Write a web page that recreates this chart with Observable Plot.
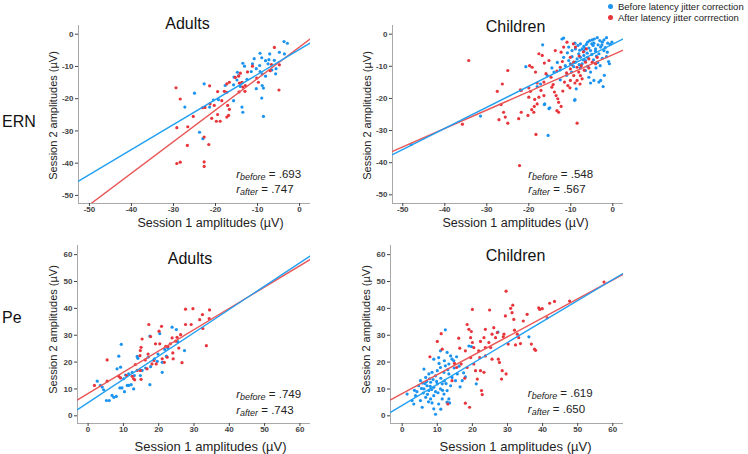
<!DOCTYPE html>
<html>
<head>
<meta charset="utf-8">
<script src="https://cdn.jsdelivr.net/npm/d3@7"></script>
<script src="https://cdn.jsdelivr.net/npm/@observablehq/plot@0.6"></script>
<style>
  body { margin: 0; background: #fff; font-family: "Liberation Sans", Arial, sans-serif; }
  #chart { position: relative; width: 748px; height: 454px; overflow: hidden; background: #fff; }
  #chart svg { position: absolute; }
  .rowlab { position: absolute; font-size: 16px; line-height: 18px; color: #111; }
  .leg { position: absolute; font-size: 9.5px; line-height: 11px; color: #222; white-space: nowrap; }
  .legdot { position: absolute; width: 5px; height: 5px; border-radius: 50%; }
</style>
</head>
<body>
<div id="chart"></div>
<script>
// ---------------- data ----------------
const rowLabels = ["ERN", "Pe"];
const groupTitles = ["Adults", "Children", "Adults", "Children"];
const seriesNames = ["Before latency jitter correction", "After latency jitter corrrection"];
const xAxisTitle = "Session 1 amplitudes (µV)";
const yAxisTitle = "Session 2 amplitudes (µV)";
const ernTicks = [-50, -40, -30, -20, -10, 0];
const peTicks = [0, 10, 20, 30, 40, 50, 60];
const rBefore = [".693", ".548", ".749", ".619"];
const rAfter = [".747", ".567", ".743", ".650"];
// fitted lines: [slope, intercept]
const fitBefore = [[0.777, -4.7], [0.655, -3.1], [0.868, 4.9], [0.78, 3.9]];
const fitAfter = [[0.979, -3.95], [0.574, -6.4], [0.793, 8.3], [0.705, 8.3]];

const ernAdultsBefore = [[-3.7,-2.3],[-2.9,-2.8],[-4.8,-5.6],[-3.6,-6.1],[-9.4,-5.9],[-7.1,-6.1],[-10.8,-7.6],[-9.0,-7.3],[-7.3,-7.9],[-7.5,-9.2],[-9.5,-9.7],[-8.1,-8.2],[-6.0,-8.1],[-13.5,-9.0],[-13.1,-9.9],[-11.2,-9.2],[-10.3,-10.7],[-9.4,-11.6],[-8.9,-12.3],[-8.1,-13.0],[-6.6,-11.1],[-5.7,-12.3],[-5.6,-10.7],[-11.5,-11.6],[-14.8,-11.8],[-14.5,-12.8],[-15.6,-13.3],[-14.9,-14.2],[-13.7,-15.1],[-12.5,-14.0],[-10.3,-16.9],[-8.6,-16.7],[-8.9,-15.9],[-14.1,-16.2],[-15.7,-15.7],[-15.7,-20.6],[-9.0,-19.8],[-8.6,-25.5],[-13.7,-22.6],[-13.5,-24.2],[-17.7,-15.9],[-20.5,-20.4],[-19.3,-20.3],[-22.7,-15.4],[-25.0,-18.3],[-27.3,-22.6],[-21.4,-22.6],[-23.8,-30.4],[-23.0,-32.4]];
const ernAdultsAfter = [[-6.0,-4.1],[-11.2,-9.9],[-4.8,-9.5],[-4.9,-17.3],[-6.7,-9.4],[-12.4,-11.7],[-10.2,-13.6],[-9.8,-14.9],[-7.0,-11.3],[-14.1,-12.1],[-13.7,-14.9],[-12.9,-15.9],[-13.5,-16.4],[-13.0,-17.7],[-14.4,-17.9],[-14.3,-15.2],[-15.3,-13.4],[-14.5,-13.0],[-16.7,-14.9],[-17.3,-15.4],[-17.3,-18.0],[-17.9,-17.7],[-19.5,-17.8],[-18.5,-20.6],[-17.1,-22.1],[-16.7,-23.3],[-16.9,-25.2],[-17.3,-25.7],[-18.9,-27.0],[-19.8,-27.0],[-19.5,-24.9],[-20.9,-26.1],[-21.3,-21.6],[-20.3,-22.1],[-22.5,-22.7],[-23.1,-22.8],[-21.4,-16.0],[-25.3,-25.5],[-26.6,-28.7],[-29.2,-29.0],[-28.4,-20.1],[-29.4,-16.6],[-22.7,-31.9],[-21.6,-34.2],[-26.7,-34.5],[-22.7,-39.6],[-22.7,-41.0],[-28.4,-39.7],[-29.2,-40.1]];
const ernChildrenBefore = [[-48.0,-34.3],[-31.5,-25.5],[-15.4,-31.5],[-15.2,-23.2],[-16.3,-21.9],[-9.0,-20.4],[-8.7,-17.0],[-16.7,-3.3],[-20.7,-10.1],[-18.0,-16.3],[-11.7,-1.2],[-2.3,-16.3],[-2.9,-14.4],[-5.3,-15.2],[-12.1,-1.5],[-10.5,-4.0],[-9.7,-5.1],[-8.9,-4.6],[-8.3,-3.5],[-7.7,-3.0],[-7.3,-4.6],[-6.9,-3.8],[-6.3,-3.2],[-6.0,-2.5],[-5.5,-2.0],[-4.9,-1.8],[-4.4,-1.5],[-3.7,-1.1],[-3.1,-2.0],[-2.5,-2.5],[-2.1,-1.8],[-1.5,-1.1],[-1.2,-2.8],[-0.6,-3.2],[-0.2,-2.5],[-2.9,-4.0],[-4.1,-4.6],[-5.3,-5.1],[-6.1,-5.9],[-6.9,-6.6],[-7.7,-7.2],[-8.5,-7.7],[-8.9,-8.7],[-10.1,-9.2],[-9.3,-10.1],[-7.7,-10.5],[-6.5,-11.3],[-5.3,-11.8],[-5.7,-13.4],[-4.5,-14.4],[-3.3,-14.9],[-4.1,-5.3],[-3.3,-6.1],[-2.1,-5.1],[-4.7,-3.5],[-5.7,-4.3],[-6.9,-5.3],[-8.1,-6.1],[-9.7,-7.0],[-10.5,-8.2],[-11.3,-9.8],[-12.5,-11.1],[-14.0,-11.8],[-15.6,-12.9],[-17.2,-15.5],[-15.0,-22.9],[-16.2,-21.7],[-9.1,-20.6],[-1.3,-5.6],[-6.5,-8.2],[-7.3,-9.2],[-11.7,-7.2],[-1.0,-8.5],[-3.6,-8.8],[-4.5,-2.8],[-3.5,-3.3],[-5.0,-3.0],[-6.6,-4.5],[-7.9,-5.0],[-2.6,-3.4],[-1.8,-4.2],[-3.9,-6.8],[-5.0,-6.3],[-6.0,-7.2],[-7.0,-8.0],[-8.0,-9.5],[-4.6,-8.0],[-2.5,-7.5],[-3.0,-9.8],[-4.0,-10.5],[-6.0,-10.0],[-9.8,-11.8],[-11.0,-12.8],[-12.5,-14.2],[-13.2,-8.8],[-14.5,-10.5],[-10.8,-5.8],[-9.0,-2.8],[-2.0,-12.8],[-0.8,-9.2],[-1.5,-7.0]];
const ernChildrenAfter = [[-34.3,-8.2],[-25.0,-11.3],[-26.3,-15.5],[-27.5,-17.8],[-26.6,-21.9],[-27.1,-26.6],[-26.0,-24.3],[-25.6,-25.8],[-25.0,-27.7],[-35.8,-28.0],[-22.4,-26.3],[-21.8,-24.3],[-21.8,-17.5],[-22.2,-40.9],[-20.0,-19.6],[-19.6,-17.8],[-20.2,-25.3],[-18.6,-20.3],[-19.3,-23.5],[-18.7,-22.5],[-18.3,-31.2],[-18.0,-21.7],[-19.8,-9.8],[-19.2,-10.3],[-18.4,-11.8],[-18.0,-15.2],[-17.1,-17.5],[-16.4,-14.9],[-15.9,-12.3],[-17.6,-6.1],[-16.8,-6.6],[-16.3,-9.0],[-15.2,-8.2],[-14.7,-13.4],[-14.2,-15.7],[-13.9,-18.0],[-13.5,-19.1],[-13.1,-20.1],[-12.9,-21.2],[-12.3,-22.5],[-13.3,-23.8],[-12.9,-24.3],[-11.9,-17.7],[-11.5,-14.9],[-13.7,-5.1],[-12.3,-5.6],[-11.7,-4.0],[-10.9,-2.5],[-9.4,-3.0],[-8.9,-4.0],[-10.1,-7.2],[-9.3,-8.7],[-10.1,-10.8],[-8.5,-10.3],[-8.1,-11.8],[-7.7,-12.9],[-7.3,-13.9],[-8.5,-14.4],[-9.3,-12.9],[-10.1,-14.4],[-10.7,-16.0],[-10.2,-16.7],[-6.5,-8.7],[-5.7,-7.7],[-4.9,-8.7],[-3.7,-7.2],[-6.3,-4.6],[-8.5,-27.7],[-13.3,-11.5],[-12.5,-10.3],[-5.7,-10.5],[-4.1,-9.2],[-22.0,-17.3],[-20.0,-16.7],[-17.6,-19.6],[-16.4,-19.1],[-18.8,-24.3],[-7.0,-5.5],[-8.0,-6.8],[-9.8,-9.5],[-7.5,-9.8],[-6.8,-11.2],[-11.0,-12.0],[-9.0,-15.2],[-7.8,-15.5],[-12.0,-8.5],[-14.5,-16.5]];
const peAdultsBefore = [[2.6,12.9],[3.5,11.3],[4.0,10.7],[4.4,9.7],[5.2,5.7],[6.0,5.7],[6.8,7.6],[7.3,6.9],[8.0,7.2],[8.2,17.5],[8.7,22.2],[9.4,26.6],[9.0,10.4],[9.6,10.4],[10.1,13.8],[10.6,15.2],[10.3,9.0],[11.5,11.3],[12.2,11.6],[11.5,15.6],[12.5,16.2],[13.1,15.0],[12.9,10.0],[13.9,22.1],[14.1,21.4],[15.3,16.9],[16.3,17.8],[17.0,21.8],[17.5,11.6],[17.7,18.3],[17.5,29.7],[18.8,21.2],[19.6,20.3],[19.8,23.0],[20.3,30.6],[21.0,19.9],[21.0,16.2],[21.7,24.7],[22.2,22.2],[22.6,25.2],[23.8,33.0],[25.0,32.1],[25.4,27.6],[27.3,24.3],[14.8,15.0],[11.1,11.3],[9.2,18.1]];
const peAdultsAfter = [[1.8,11.3],[5.4,20.8],[5.4,12.9],[8.7,14.7],[9.2,14.1],[10.9,15.0],[12.5,14.7],[12.9,13.8],[13.2,13.4],[13.4,19.1],[13.9,16.9],[14.7,22.4],[14.8,24.3],[15.0,25.5],[15.3,28.6],[15.0,13.6],[14.8,16.9],[16.2,20.8],[16.7,17.5],[17.0,23.0],[17.2,34.0],[17.7,29.5],[18.1,19.3],[18.6,20.6],[19.1,26.8],[19.3,19.3],[20.1,31.5],[20.3,26.8],[20.8,33.3],[21.0,21.2],[21.6,19.9],[22.0,25.9],[22.4,21.8],[22.6,25.8],[23.3,26.8],[23.8,29.0],[24.0,23.4],[24.1,21.2],[24.8,27.8],[25.2,29.2],[25.7,25.2],[26.2,30.2],[26.6,19.8],[27.6,39.7],[27.6,34.0],[29.2,34.0],[29.7,39.9],[31.6,35.8],[32.4,37.7],[32.5,32.5],[33.5,26.1],[34.4,39.4],[34.3,36.2]];
const peChildrenBefore = [[12.3,32.0],[10.9,24.2],[12.8,23.6],[13.8,22.3],[14.2,21.1],[14.7,20.5],[10.4,21.7],[9.0,21.1],[13.3,19.3],[12.3,18.6],[10.9,18.0],[10.0,16.8],[8.5,16.2],[7.6,15.6],[6.7,14.3],[9.5,14.9],[11.9,16.2],[13.3,15.6],[14.2,14.3],[15.7,15.6],[15.2,13.1],[17.1,13.1],[19.0,26.0],[6.2,17.4],[5.2,13.1],[4.7,11.2],[6.2,10.0],[7.1,11.2],[7.6,9.4],[8.1,12.5],[9.0,10.6],[10.0,11.9],[10.9,10.0],[11.4,11.9],[12.8,9.4],[13.8,11.2],[9.0,7.5],[8.1,6.3],[6.7,6.9],[5.2,5.7],[3.8,7.5],[2.8,5.7],[1.4,8.1],[3.3,4.4],[5.7,3.2],[9.0,2.6],[9.5,0.6],[10.4,4.4],[11.4,6.3],[11.9,8.1],[13.3,6.3],[27.3,31.2],[36.1,29.4],[21.1,11.9],[19.7,25.8],[7.0,12.8],[8.8,13.5],[9.8,12.8],[6.0,8.5],[7.2,8.0],[8.4,9.8],[10.2,8.6],[11.0,14.0],[12.0,13.0],[5.5,10.2],[4.2,9.0],[6.5,12.0],[8.0,11.0],[9.5,9.0],[11.5,9.5],[12.5,12.0],[13.0,17.2],[14.8,17.8],[16.2,18.5],[17.5,16.0],[7.8,13.8],[5.8,12.2],[3.5,9.5],[16.5,10.8],[18.0,14.5],[10.5,19.5],[12.0,20.5],[15.5,22.0],[8.5,4.8],[7.5,5.2],[11.0,2.5],[13.5,4.8],[12.8,5.1]];
const peChildrenAfter = [[7.9,22.0],[10.0,27.7],[11.1,30.6],[11.4,24.8],[16.1,28.9],[16.4,25.2],[16.8,19.3],[18.0,4.7],[18.5,34.0],[19.0,32.2],[19.2,3.2],[19.5,21.7],[19.7,31.4],[20.0,39.6],[19.5,29.1],[20.0,27.3],[20.4,19.3],[20.9,16.8],[21.4,13.7],[21.8,24.2],[22.3,16.8],[22.6,9.4],[22.8,7.9],[23.3,29.1],[23.7,25.4],[23.3,16.2],[23.7,32.2],[24.7,27.3],[24.9,39.4],[25.2,25.4],[25.6,21.1],[26.1,32.8],[26.6,29.1],[27.1,31.0],[27.4,21.1],[27.7,19.9],[28.3,13.7],[28.5,16.8],[28.8,29.4],[29.0,30.4],[29.4,37.2],[29.6,46.4],[29.6,15.6],[30.2,26.7],[30.9,40.0],[31.3,38.4],[31.5,41.2],[31.8,35.9],[32.0,31.9],[32.3,26.4],[32.8,30.4],[33.2,29.1],[33.7,26.9],[34.5,35.3],[35.6,37.8],[36.8,26.7],[37.7,24.8],[38.0,24.4],[38.9,40.2],[39.2,39.6],[39.9,39.9],[41.3,36.5],[42.0,41.9],[43.4,42.6],[47.7,42.7],[57.5,49.8],[14.9,19.5],[15.5,18.0],[14.2,13.1],[13.0,4.4],[17.8,14.0],[18.5,18.0],[18.0,24.2],[22.3,27.7],[22.1,21.7],[20.4,25.4],[23.7,22.3],[25.6,30.4]];

// ---------------- styling / layout ----------------
const BLUE = "#1b93f0", RED = "#e8343b";
const BLUE_LINE = "#22a0f2", RED_LINE = "#ea5656";
const FONT = "Liberation Sans, Arial, sans-serif";

const panels = [
  {left: 0, top: 0, width: 340, height: 230, frame: [78, 25, 310, 203], xDomain: [-52.6, 2.6], yDomain: [-52.5, 2.7], ticks: ernTicks,
   before: ernAdultsBefore, after: ernAdultsAfter, title: [187, 23], xl: [210, 222], xs: 12.5, yl: [53, 115], ann: [235.7, 174, 189]},
  {left: 340, top: 0, width: 408, height: 230, frame: [392, 25, 623, 203], xDomain: [-52.45, 2.55], yDomain: [-52.7, 2.7], ticks: ernTicks,
   before: ernChildrenBefore, after: ernChildrenAfter, title: [515, 26.7], xl: [515, 222], xs: 12.5, yl: [367, 115], ann: [527.7, 174, 189]},
  {left: 0, top: 230, width: 340, height: 224, frame: [77, 245, 310, 423], xDomain: [-3.0, 63.0], yDomain: [-2.86, 63.4], ticks: peTicks,
   before: peAdultsBefore, after: peAdultsAfter, title: [189.5, 258], xl: [210, 446], xs: 13, yl: [53, 329], ann: [235.7, 394, 410]},
  {left: 340, top: 230, width: 408, height: 224, frame: [390, 245, 623, 423], xDomain: [-3.33, 63.05], yDomain: [-2.85, 63.4], ticks: peTicks,
   before: peChildrenBefore, after: peChildrenAfter, title: [515, 255], xl: [515, 446], xs: 13, yl: [366, 329], ann: [527.3, 393, 409]}
];

const chart = document.getElementById("chart");

panels.forEach((p, i) => {
  const [fx0, fy0, fx1, fy1] = p.frame;
  const at = (ax, ay) => ({frameAnchor: "top-left", dx: ax - fx0, dy: ay - fy0});
  const lineFor = ([slope, intercept]) => p.xDomain.map(x => ({x, y: intercept + slope * x}));
  const svg = Plot.plot({
    width: p.width, height: p.height,
    marginLeft: fx0 - p.left, marginRight: p.left + p.width - fx1,
    marginTop: fy0 - p.top, marginBottom: p.top + p.height - fy1,
    style: {fontFamily: FONT, background: "transparent"},
    x: {domain: p.xDomain}, y: {domain: p.yDomain},
    marks: [
      Plot.ruleX([p.xDomain[0]], {stroke: "#a8a8a8", strokeWidth: 1}),
      Plot.ruleY([p.yDomain[0]], {stroke: "#a8a8a8", strokeWidth: 1}),
      Plot.axisX({ticks: p.ticks, tickFormat: d => String(d), tickSize: 3, tickPadding: 0, fontSize: 8, fontWeight: "bold", color: "#444", label: null}),
      Plot.axisY({ticks: p.ticks, tickFormat: d => String(d), tickSize: 3, tickPadding: 2, fontSize: 8, fontWeight: "bold", color: "#444", label: null}),
      Plot.dot(p.before, {x: d => d[0], y: d => d[1], r: 1.6, fill: BLUE, stroke: null}),
      Plot.dot(p.after, {x: d => d[0], y: d => d[1], r: 1.6, fill: RED, stroke: null}),
      Plot.line(lineFor(fitAfter[i]), {x: "x", y: "y", stroke: RED_LINE, strokeWidth: 1.4, clip: true}),
      Plot.line(lineFor(fitBefore[i]), {x: "x", y: "y", stroke: BLUE_LINE, strokeWidth: 1.4, clip: true}),
      Plot.text([groupTitles[i]], {...at(...p.title), textAnchor: "middle", lineAnchor: "middle", fontSize: 16, fill: "#111"}),
      Plot.text([xAxisTitle], {...at(...p.xl), textAnchor: "middle", lineAnchor: "middle", fontSize: p.xs, fill: "#222"}),
      Plot.text([yAxisTitle], {...at(...p.yl), textAnchor: "middle", lineAnchor: "middle", rotate: -90, fontSize: 11, fill: "#222"}),
      Plot.text(["r|before| = " + rBefore[i]], {...at(p.ann[0], p.ann[1]), textAnchor: "start", lineAnchor: "middle", fontSize: 11.5, fill: "#222"}),
      Plot.text(["r|after| = " + rAfter[i]], {...at(p.ann[0], p.ann[2]), textAnchor: "start", lineAnchor: "middle", fontSize: 11.5, fill: "#222"})
    ]
  });
  // italic r with subscript label
  d3.select(svg).selectAll("text").filter(function () { return this.textContent.includes("|"); }).each(function () {
    const [a, b, c] = this.textContent.split("|");
    const t = d3.select(this);
    t.text(null);
    t.append("tspan").attr("font-style", "italic").text(a);
    t.append("tspan").attr("font-style", "italic").attr("font-size", "9px").attr("dy", "2").text(b);
    t.append("tspan").attr("dy", "-2").text(c);
  });
  svg.style.left = p.left + "px";
  svg.style.top = p.top + "px";
  chart.appendChild(svg);
});

// row labels
[[rowLabels[0], 122], [rowLabels[1], 318]].forEach(([txt, cy]) => {
  const d = document.createElement("div");
  d.className = "rowlab";
  d.textContent = txt;
  d.style.left = "2px";
  d.style.top = (cy - 9) + "px";
  chart.appendChild(d);
});

// legend
[[seriesNames[0], BLUE, 6], [seriesNames[1], RED, 17]].forEach(([txt, col, cy]) => {
  const dot = document.createElement("div");
  dot.className = "legdot";
  dot.style.background = col;
  dot.style.left = "607.5px";
  dot.style.top = (cy - 2.5) + "px";
  chart.appendChild(dot);
  const lab = document.createElement("div");
  lab.className = "leg";
  lab.textContent = txt;
  lab.style.left = "618px";
  lab.style.top = (cy - 5.5) + "px";
  chart.appendChild(lab);
});
</script>
</body>
</html>
